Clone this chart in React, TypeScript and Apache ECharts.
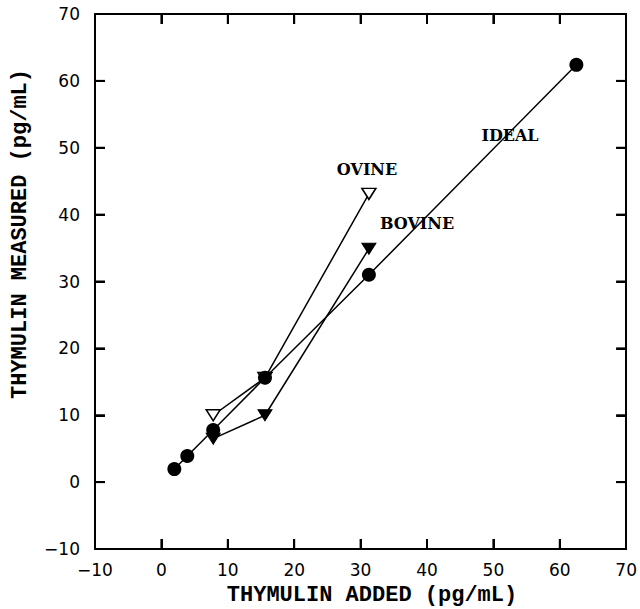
import React, { useEffect, useRef } from "react";
import * as echarts from "echarts";

// Thymulin recovery: amount added vs amount measured (pg/mL)
const addedIdeal = [1.95, 3.9, 7.8, 15.6, 31.25, 62.5];
const measuredIdeal = [1.95, 3.9, 7.8, 15.6, 31.0, 62.4];

const addedOvine = [7.8, 15.6, 31.25];
const measuredOvine = [10.0, 15.6, 43.1];

const addedBovine = [7.8, 15.6, 31.25];
const measuredBovine = [6.5, 10.0, 34.9];

const axisMin = -10;
const axisMax = 70;
const axisStep = 10;
const tickValues = [0, 10, 20, 30, 40, 50, 60];

const zip = (xs: number[], ys: number[]) => xs.map((x, i) => [x, ys[i]]);

const fmt = (v: number) => (v < 0 ? "\u2212" + Math.abs(v) : String(v));

const TICK_LEN = 10;
const TICK_W = 2;

export default function App() {
  const ref = useRef<HTMLDivElement>(null);

  useEffect(() => {
    if (!ref.current) return;
    const chart = echarts.init(ref.current, null, { renderer: "svg" });

    const tickLabel = {
      fontFamily: "DejaVu Sans",
      fontSize: 17,
      color: "#000",
    };
    const titleFont = {
      fontFamily: "Liberation Mono",
      fontWeight: "bold" as const,
      fontSize: 22,
      fill: "#000",
    };
    const serif = {
      fontFamily: "DejaVu Serif",
      fontWeight: "bold" as const,
      fontSize: 16,
      fill: "#000",
      textAlign: "center" as const,
      textVerticalAlign: "middle" as const,
    };

    const makeAxis = (position: string, labelMargin: number | null) => ({
      type: "value",
      position,
      min: axisMin,
      max: axisMax,
      interval: axisStep,
      splitLine: { show: false },
      axisLine: { show: true, onZero: false, lineStyle: { color: "#000", width: 2 } },
      axisTick: {
        show: true,
        inside: true,
        length: TICK_LEN,
        lineStyle: { color: "#000", width: TICK_W },
      },
      axisLabel:
        labelMargin === null
          ? { show: false }
          : { ...tickLabel, show: true, margin: labelMargin, formatter: fmt },
    });

    chart.setOption({
      animation: false,
      backgroundColor: "#fff",
      grid: { left: 95, right: 8, top: 14, bottom: 60 },
      xAxis: [makeAxis("bottom", 12), makeAxis("top", null)],
      yAxis: [makeAxis("left", 15), makeAxis("right", null)],
      series: [
        {
          name: "OVINE",
          type: "line",
          data: zip(addedOvine, measuredOvine),
          symbol: "triangle",
          symbolRotate: 180,
          symbolSize: [14, 11],
          showAllSymbol: true,
          lineStyle: { color: "#000", width: 1.5 },
          itemStyle: { color: "#fff", borderColor: "#000", borderWidth: 1.5 },
          z: 2,
        },
        {
          name: "BOVINE",
          type: "line",
          data: zip(addedBovine, measuredBovine),
          symbol: "triangle",
          symbolRotate: 180,
          symbolSize: [14, 11],
          showAllSymbol: true,
          lineStyle: { color: "#000", width: 1.5 },
          itemStyle: { color: "#000", borderColor: "#000", borderWidth: 1 },
          z: 3,
        },
        {
          name: "IDEAL",
          type: "line",
          data: zip(addedIdeal, measuredIdeal),
          symbol: "circle",
          symbolSize: 14,
          showAllSymbol: true,
          lineStyle: { color: "#000", width: 1.5 },
          itemStyle: { color: "#000", borderColor: "#000", borderWidth: 0 },
          z: 4,
        },
      ],
    });

    // inward tick marks on all four sides as filled bars, placed through the grid's scales
    const px = (x: number, y: number) =>
      chart.convertToPixel({ xAxisIndex: 0, yAxisIndex: 0 }, [x, y]) as number[];
    const fill = { fill: "#000" };
    const ticks: any[] = [];
    tickValues.forEach((v) => {
      const b = px(v, axisMin);
      const t = px(v, axisMax);
      const l = px(axisMin, v);
      const r = px(axisMax, v);
      const h = TICK_W / 2;
      ticks.push(
        { type: "rect", z: 10, shape: { x: b[0] - h, y: b[1] - TICK_LEN, width: TICK_W, height: TICK_LEN }, style: fill },
        { type: "rect", z: 10, shape: { x: t[0] - h, y: t[1], width: TICK_W, height: TICK_LEN }, style: fill },
        { type: "rect", z: 10, shape: { x: l[0], y: l[1] - h, width: TICK_LEN, height: TICK_W }, style: fill },
        { type: "rect", z: 10, shape: { x: r[0] - TICK_LEN, y: r[1] - h, width: TICK_LEN, height: TICK_W }, style: fill }
      );
    });

    chart.setOption({
      graphic: [
        ...ticks,
        {
          type: "text",
          x: 372,
          y: 595,
          style: {
            ...titleFont,
            text: "THYMULIN ADDED (pg/mL)",
            textAlign: "center",
            textVerticalAlign: "middle",
          },
        },
        {
          type: "text",
          x: 20,
          y: 234,
          rotation: Math.PI / 2,
          style: {
            ...titleFont,
            text: "THYMULIN MEASURED (pg/mL)",
            textAlign: "center",
            textVerticalAlign: "middle",
          },
        },
        { type: "text", x: 510, y: 135, style: { ...serif, text: "IDEAL" } },
        { type: "text", x: 367, y: 169, style: { ...serif, text: "OVINE" } },
        { type: "text", x: 417, y: 223, style: { ...serif, text: "BOVINE" } },
      ],
    });

    return () => chart.dispose();
  }, []);

  return (
    <div
      ref={ref}
      style={{ position: "fixed", left: 0, top: 0, width: 640, height: 609, background: "#fff" }}
    />
  );
}
